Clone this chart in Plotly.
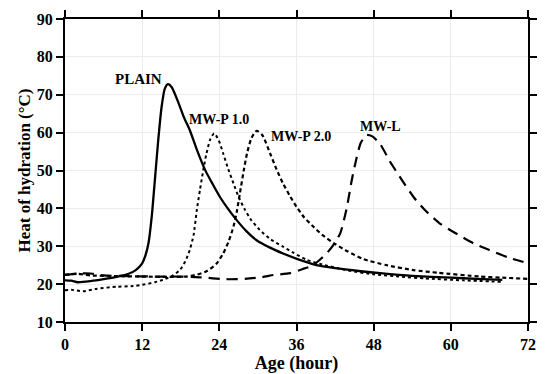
import plotly.graph_objects as go

# PLAIN (solid)
plain_t = [0, 1, 2, 4, 6, 8, 10, 11, 12, 12.5, 13, 13.5, 14, 14.5, 15, 15.5, 16, 16.6, 17.5, 18.5, 19.4, 20.5, 21.8, 23, 24.1, 25.3, 26.7, 28.2, 29.8, 31.8, 33.9, 36.5, 39.1, 42, 46, 49, 54, 60, 64, 68]
plain_v = [21, 20.9, 20.5, 20.8, 21.3, 21.9, 22.8, 23.7, 25.5, 27.5, 31, 38, 48, 58, 66.5, 71.5, 72.8, 72, 68.5, 64, 60.7, 55.5, 50.1, 46.3, 43, 40, 36.9, 34, 31.6, 29.7, 28.1, 26.4, 25, 24.2, 23.4, 22.9, 22.2, 21.7, 21.4, 21.1]

# MW-P 1.0 (dotted)
mwp1_t = [0, 1, 2.8, 5, 8, 10.6, 12, 14, 15.5, 16.8, 17.9, 18.7, 19.4, 20, 20.5, 21, 21.5, 22, 22.6, 23.2, 23.9, 24.6, 25.4, 26.2, 27, 28, 29, 30.3, 32, 33.9, 35.5, 37.6, 40, 44, 48, 52, 56, 62, 68]
mwp1_v = [18.4, 18.5, 18.1, 18.8, 19.3, 19.5, 19.8, 20.5, 21.3, 22.3, 23.8, 26, 29, 33, 39.6, 45, 50.1, 54.5, 58.3, 59.8, 58, 54.5, 50.3, 46.6, 43, 39.6, 36.8, 34.3, 31.8, 29.9, 28.3, 26.4, 25.2, 23.6, 22.6, 22, 21.5, 21, 20.6]

# MW-P 2.0 (short dash)
mwp2_t = [0, 2, 4, 8, 12, 16, 18.9, 20.5, 22, 23.5, 24.6, 25.5, 26.2, 26.7, 27.2, 27.8, 28.3, 29, 29.8, 30.7, 31.9, 32.9, 33.9, 35, 36, 37.2, 38.6, 40, 42, 44, 46.4, 50, 54.2, 58, 64.5, 68, 72]
mwp2_v = [22.5, 22.7, 22.3, 22.1, 22.0, 21.9, 22.0, 22.5, 23.4, 25.3, 28.1, 31.5, 35.2, 39, 44, 50, 54.5, 58.6, 60.5, 59.3, 54.5, 50.3, 46.6, 43.2, 40.4, 37.6, 35.2, 33, 30.6, 28.6, 26.6, 25, 23.7, 23, 22, 21.7, 21.4]

# MW-L (long dash)
mwl_t = [0, 2, 4, 6, 10, 14, 18, 21, 25, 28, 30.5, 32.4, 35, 37, 38.6, 40, 40.7, 41.8, 42.8, 43.8, 44.6, 45.3, 46, 46.9, 47.8, 49, 50.5, 52, 54.2, 56, 58.3, 61, 63.5, 66, 69, 72]
mwl_v = [22.4, 22.8, 22.8, 22.3, 22.1, 22.0, 22.0, 21.8, 21.3, 21.4, 21.8, 22.4, 22.9, 24, 25, 27, 28.1, 30.5, 33.4, 40, 47.5, 53, 57.3, 59.4, 59, 57, 52.5, 48.5, 43, 39.5, 36, 33.2, 30.8, 29, 27, 25.5]

labels = ["PLAIN", "MW-P 1.0", "MW-P 2.0", "MW-L"]
label_x = [11.5, 24.0, 36.7, 49.1]
label_y = [74.2, 63.5, 59.1, 61.6]

x_ticks = [0, 12, 24, 36, 48, 60, 72]
y_ticks = [10, 20, 30, 40, 50, 60, 70, 80, 90]

FONT = "Liberation Serif"

fig = go.Figure()
series = [
    (plain_t, plain_v, "solid", 2.3),
    (mwp1_t, mwp1_v, "dot", 2.0),
    (mwp2_t, mwp2_v, "4px,3px", 2.2),
    (mwl_t, mwl_v, "11px,7px", 2.2),
]
for (t, v, dash, w), name in zip(series, labels):
    fig.add_trace(go.Scatter(x=t, y=v, mode="lines", name=name,
                             line=dict(color="black", width=w, dash=dash, shape="spline", smoothing=0.6)))

for txt, lx, ly, fs in zip(labels, label_x, label_y, [15, 14, 14, 14]):
    fig.add_annotation(x=lx, y=ly, text="<b>%s</b>" % txt, showarrow=False,
                       font=dict(family=FONT, size=fs, color="black"))

axis_common = dict(showline=True, linecolor="black", linewidth=2, mirror="ticks",
                   ticks="outside", ticklen=7, tickwidth=2, tickcolor="black",
                   showgrid=True, gridcolor="#ececec", gridwidth=1, zeroline=False,
                   automargin=False,
                   tickfont=dict(family=FONT, size=16, color="black"))

fig.update_xaxes(range=[0, 72], tickvals=x_ticks, ticktext=["<b>%d</b>" % v for v in x_ticks],
                 title=dict(text="<b>Age (hour)</b>", font=dict(family=FONT, size=18, color="black"), standoff=2),
                 **axis_common)
fig.update_yaxes(range=[10, 90], tickvals=y_ticks, ticktext=["<b>%d</b>" % v for v in y_ticks],
                 title=dict(text="<b>Heat of hydration (°C)</b>", font=dict(family=FONT, size=17, color="black"), standoff=2),
                 **axis_common)

fig.update_layout(width=550, height=374, margin=dict(l=65, r=22, t=19, b=52),
                  plot_bgcolor="white", paper_bgcolor="white", showlegend=False)

fig.write_html("out.html", config={"displayModeBar": False},
               post_script="document.body.style.margin='0px';")
